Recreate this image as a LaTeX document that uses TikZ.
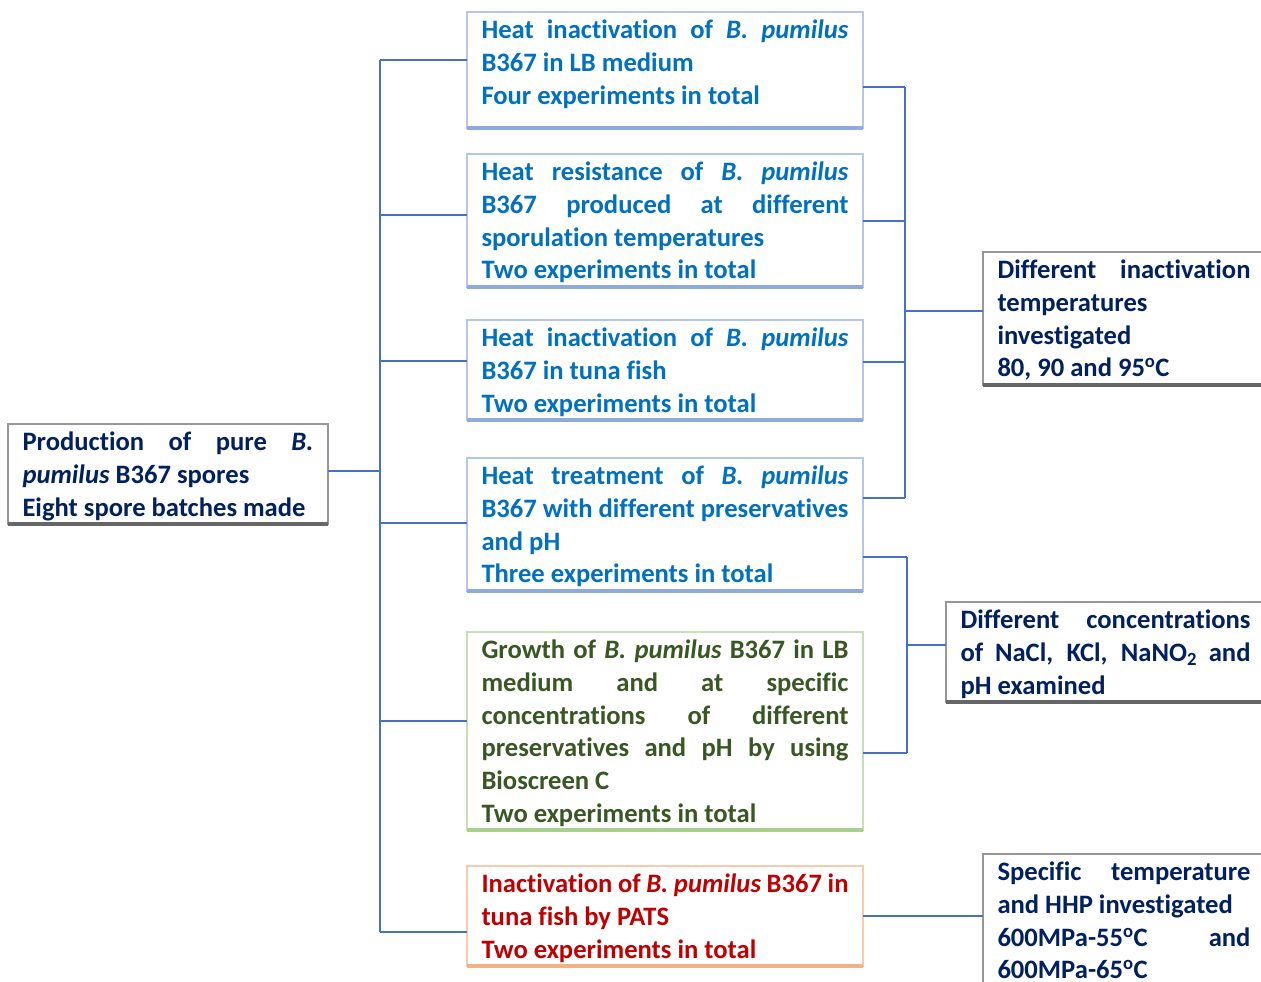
\documentclass[tikz,border=0pt]{standalone}
\usepackage{fontspec}
\setmainfont{Carlito}[Ligatures=NoCommon]
\usetikzlibrary{positioning}
\setlength{\parindent}{0pt}
\tolerance=10000
\hbadness=10000
\hyphenpenalty=10000
\definecolor{linkblue}{HTML}{4472C4}
\definecolor{txtblue}{HTML}{0070C0}
\definecolor{txtnavy}{HTML}{002060}
\definecolor{txtgreen}{HTML}{385723}
\definecolor{txtred}{HTML}{C00000}
\definecolor{edgeblue}{HTML}{B4C7E7}
\definecolor{baseblue}{HTML}{8FAADC}
\definecolor{edgegray}{HTML}{979797}
\definecolor{basegray}{HTML}{666666}
\definecolor{edgegreen}{HTML}{C5E0B4}
\definecolor{basegreen}{HTML}{A9D18E}
\definecolor{edgered}{HTML}{F8CBAD}
\definecolor{basered}{HTML}{F4B183}
\tikzset{
  conn/.style={line width=2.6pt, draw=linkblue},
  textbox/.style={draw, line width=1.8pt, fill=white, anchor=north west,
    text width=#1, align=justify, inner xsep=14.5pt, inner ysep=0pt, outer sep=0pt,
    font=\fontsize{26.6}{32.7}\selectfont\bfseries,
    execute at begin node={\rule{0pt}{26.8pt}},
    execute at end node={\rule[-7.7pt]{0pt}{7.7pt}}},
  textbox/.default=367pt,
}
\begin{document}
\begin{tikzpicture}[x=1pt,y=-1pt]
\useasboundingbox (0,0) rectangle (1261,982);
% left box
\node[textbox=291pt, draw=edgegray, text=txtnavy] (prod) at (8,424)
  {Production of pure \textit{B.}\linebreak \textit{pumilus} B367 spores\par Eight spore batches made};
% middle column
\node[textbox, draw=edgeblue, text=txtblue, execute at end node={\rule[-24pt]{0pt}{24pt}}] (heatlb) at (467,12)
  {Heat inactivation of \textit{B. pumilus}\linebreak B367 in LB medium\par Four experiments in total};
\node[textbox, draw=edgeblue, text=txtblue] (sporul) at (467,154)
  {Heat resistance of \textit{B. pumilus}\linebreak B367 produced at different\linebreak sporulation temperatures\par Two experiments in total};
\node[textbox, draw=edgeblue, text=txtblue] (tuna) at (467,320)
  {Heat inactivation of \textit{B. pumilus}\linebreak B367 in tuna fish\par Two experiments in total};
\node[textbox, draw=edgeblue, text=txtblue] (presv) at (467,458)
  {Heat treatment of \textit{B. pumilus}\linebreak B367 with different preservatives\linebreak and pH\par Three experiments in total};
\node[textbox, draw=edgegreen, text=txtgreen] (growth) at (467,632)
  {Growth of \textit{B. pumilus} B367 in LB\linebreak medium and at specific\linebreak concentrations of different\linebreak preservatives and pH by using\linebreak Bioscreen C\par Two experiments in total};
\node[textbox, draw=edgered, text=txtred] (pats) at (467,866)
  {Inactivation of \textit{B. pumilus} B367 in\linebreak tuna fish by PATS\par Two experiments in total};
% right column
\node[textbox=253pt, draw=edgegray, text=txtnavy] (temps) at (983,252)
  {Different inactivation\linebreak temperatures\newline investigated\newline 80, 90 and 95\textsuperscript{o}C};
\node[textbox=290pt, draw=edgegray, text=txtnavy] (conc) at (946,602)
  {Different concentrations\linebreak of NaCl, KCl, NaNO\textsubscript{2} and\linebreak pH examined};
\node[textbox=253pt, draw=edgegray, text=txtnavy] (hhp) at (983,854)
  {Specific temperature\linebreak and HHP investigated\newline 600MPa-55\textsuperscript{o}C and\linebreak 600MPa-65\textsuperscript{o}C};
% thick bottom edges
\foreach \b/\c in {prod/basegray,heatlb/baseblue,sporul/baseblue,tuna/baseblue,presv/baseblue,
  growth/basegreen,pats/basered,temps/basegray,conc/basegray,hhp/basegray}
  \draw[line width=4pt, \c] (\b.south west) -- (\b.south east);
% trunk
\coordinate (ttop) at (380,60);
\coordinate (tbot) at (380,932);
\draw[conn] (ttop) -- (tbot);
\draw[conn] ([yshift=3pt]prod.east) -- ([yshift=3pt]prod.east -| ttop);
\foreach \y/\b in {60/heatlb,215/sporul,361/tuna,523/presv,721/growth,932/pats}{
  \coordinate (j) at (380,\y);
  \draw[conn] (j) -- (j -| \b.west);
}
% bracket to temperatures
\draw[conn] (905,87) -- (905,498);
\foreach \y/\b in {87/heatlb,221/sporul,362/tuna,498/presv}{
  \coordinate (k) at (905,\y);
  \draw[conn] (\b.east |- k) -- (k);
}
\coordinate (kmid) at (905,311);
\draw[conn] (kmid) -- (kmid -| temps.west);
% bracket to concentrations
\draw[conn] (907,557) -- (907,753);
\foreach \y/\b in {557/presv,753/growth}{
  \coordinate (m) at (907,\y);
  \draw[conn] (\b.east |- m) -- (m);
}
\coordinate (mmid) at (907,645);
\draw[conn] (mmid) -- (mmid -| conc.west);
% PATS to HHP
\draw[conn] (pats.east) -- (pats.east -| hhp.west);
\end{tikzpicture}
\end{document}
